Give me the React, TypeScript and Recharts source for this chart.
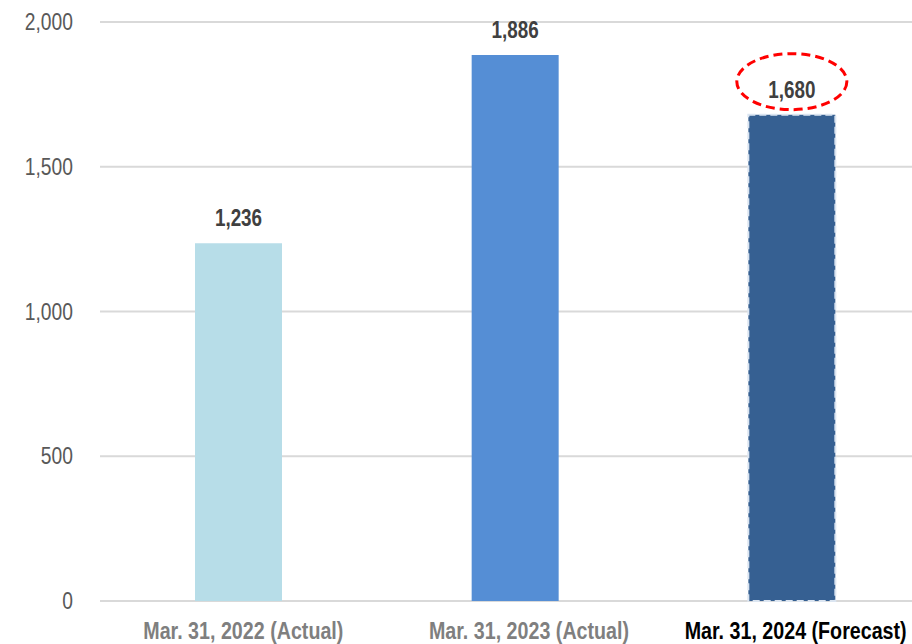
import React from "react";
import {
  BarChart,
  Bar,
  XAxis,
  YAxis,
  CartesianGrid,
  Cell,
  LabelList,
} from "recharts";

// values
const categories: string[] = [
  "Mar. 31, 2022 (Actual)",
  "Mar. 31, 2023 (Actual)",
  "Mar. 31, 2024 (Forecast)",
];
const values: number[] = [1236, 1886, 1680];
const yTicks: number[] = [0, 500, 1000, 1500, 2000];

const barColors = ["#b7dde8", "#558ed5", "#366092"];
const tickColors = ["#7f7f7f", "#7f7f7f", "#000000"];
// the original's category labels sit a little right of the bar centres
const tickShift = [5, 14, 4];
const FONT = "'Liberation Sans', Arial, sans-serif";
const NARROW = 0.82; // no narrow font installed, squeeze horizontally

const fmt = (v: number) => Number(v).toLocaleString("en-US");

// text squeezed like Arial Narrow
const NarrowText = (props: any) => {
  const { x, y, children, anchor = "middle", ...rest } = props;
  return (
    <text
      transform={`translate(${x},${y}) scale(${NARROW},1)`}
      x={0}
      y={0}
      textAnchor={anchor}
      fontFamily={FONT}
      {...rest}
    >
      {children}
    </text>
  );
};

const CategoryTick = (props: any) => {
  const { x, y, payload, index } = props;
  return (
    <NarrowText
      x={x + (tickShift[index] ?? 0)}
      y={y + 16}
      fontWeight="bold"
      fontSize={24}
      fill={tickColors[index] ?? "#7f7f7f"}
    >
      {payload.value}
    </NarrowText>
  );
};

const ValueTick = (props: any) => {
  const { x, y, payload } = props;
  return (
    <NarrowText x={x} y={y + 8} anchor="end" fontSize={23.5} fill="#595959">
      {fmt(payload.value)}
    </NarrowText>
  );
};

const ValueLabel = (props: any) => {
  const { x, y, width, value, index } = props;
  const cx = x + width / 2;
  return (
    <g>
      {index === 2 && (
        <ellipse
          cx={cx}
          cy={y - 33}
          rx={55}
          ry={28}
          fill="none"
          stroke="#ff0000"
          strokeWidth={3}
          strokeDasharray="9 5"
        />
      )}
      <NarrowText
        x={cx}
        y={y - 17}
        fontWeight="bold"
        fontSize={23}
        fill="#404040"
      >
        {fmt(value)}
      </NarrowText>
    </g>
  );
};

export default function App() {
  return (
    <div
      style={{
        position: "absolute",
        left: 0,
        top: 0,
        width: 912,
        height: 644,
        overflow: "hidden",
        background: "#fff",
      }}
    >
      <BarChart
        width={930}
        height={644}
        data={categories.map((name, i) => ({ name, value: values[i] }))}
        margin={{ top: 22, right: 0, bottom: 0, left: 0 }}
      >
        <CartesianGrid vertical={false} stroke="#d9d9d9" strokeWidth={2} />
        <XAxis
          dataKey="name"
          height={43}
          axisLine={false}
          tickLine={false}
          tickSize={0}
          tickMargin={22}
          interval={0}
          tick={<CategoryTick />}
        />
        <YAxis
          width={100}
          domain={[0, 2000]}
          ticks={yTicks}
          axisLine={false}
          tickLine={false}
          tickSize={0}
          tickMargin={27}
          tick={<ValueTick />}
        />
        <Bar dataKey="value" barSize={87} isAnimationActive={false}>
          {categories.map((c, i) => (
            <Cell
              key={c}
              fill={barColors[i]}
              stroke={i === 2 ? "#dbe5f1" : "none"}
              strokeWidth={i === 2 ? 2 : 0}
              strokeDasharray={i === 2 ? "7 4" : undefined}
            />
          ))}
          <LabelList dataKey="value" content={<ValueLabel />} />
        </Bar>
      </BarChart>
    </div>
  );
}
